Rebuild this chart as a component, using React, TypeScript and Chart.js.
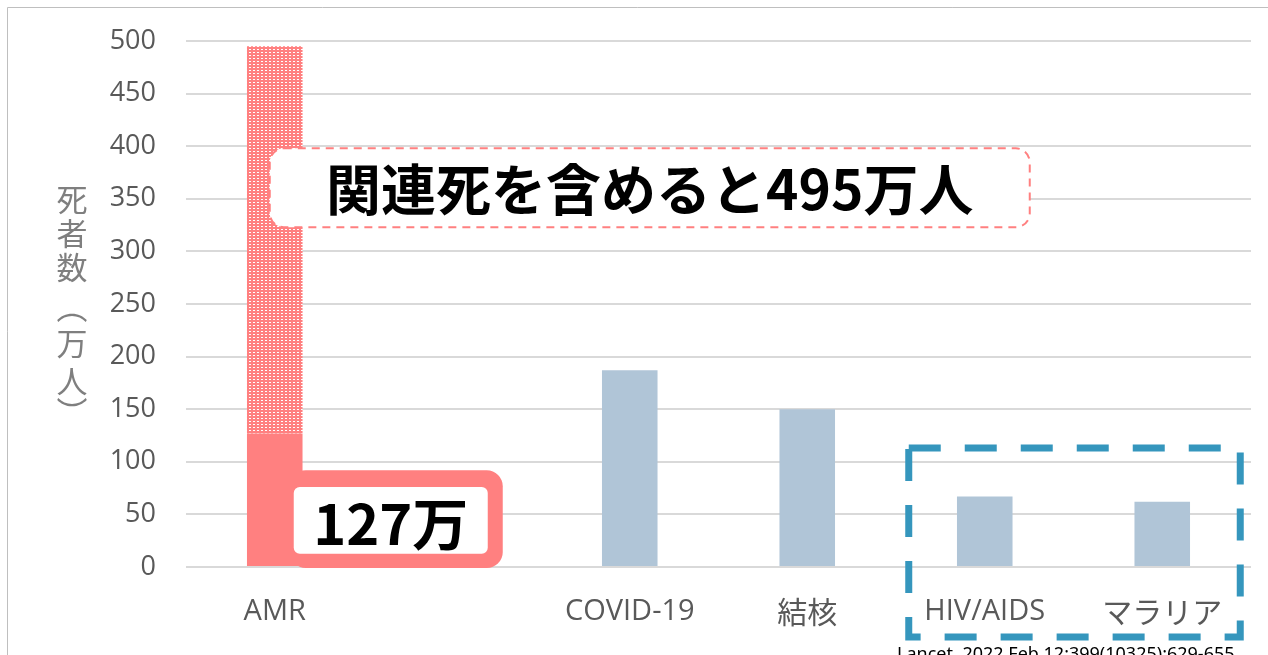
import React, { useEffect, useRef } from "react";
import { Chart, registerables } from "chart.js";

Chart.register(...registerables);

const categories = ["AMR", "", "COVID-19", "結核", "HIV/AIDS", "マラリア"];
const directDeaths = [127, null, 187, 150, 67, 62];
const totalWithAssociated = [495, null, null, null, null, null];
const yTicks = [0, 50, 100, 150, 200, 250, 300, 350, 400, 450, 500];
const yTitleChars = ["死", "者", "数", "︵", "万", "人", "︶"];
const calloutTotal = "関連死を含めると495万人";
const calloutDirect = "127万";
const sourceText = "Lancet. 2022 Feb 12;399(10325):629-655";

const PINK = "#ff8080";
const BLUE_BAR = "#b0c5d7";
const BLUE_LINE = "#3596bd";

function makePattern(): CanvasPattern | string {
  const c = document.createElement("canvas");
  c.width = 4;
  c.height = 3;
  const g = c.getContext("2d");
  if (!g) return PINK;
  g.fillStyle = PINK;
  g.fillRect(0, 0, 4, 3);
  g.fillStyle = "#ffffff";
  g.fillRect(1, 1, 2, 1);
  const p = g.createPattern(c, "repeat");
  return p || PINK;
}

function roundRect(ctx: CanvasRenderingContext2D, x: number, y: number, w: number, h: number, r: number) {
  ctx.beginPath();
  ctx.moveTo(x + r, y);
  ctx.lineTo(x + w - r, y);
  ctx.arcTo(x + w, y, x + w, y + r, r);
  ctx.lineTo(x + w, y + h - r);
  ctx.arcTo(x + w, y + h, x + w - r, y + h, r);
  ctx.lineTo(x + r, y + h);
  ctx.arcTo(x, y + h, x, y + h - r, r);
  ctx.lineTo(x, y + r);
  ctx.arcTo(x, y, x + r, y, r);
  ctx.closePath();
}

const framePlugin = {
  id: "frame",
  beforeDraw(chart: any) {
    const { ctx, width, height } = chart;
    ctx.save();
    ctx.fillStyle = "#ffffff";
    ctx.fillRect(0, 0, width, height);
    ctx.strokeStyle = "#bfbfbf";
    ctx.lineWidth = 1;
    ctx.beginPath();
    ctx.moveTo(7.5, height);
    ctx.lineTo(7.5, 7.5);
    ctx.lineTo(width, 7.5);
    ctx.stroke();
    ctx.restore();
  },
};

const titleCenters = [199, 233, 267, 307, 343, 381, 412];

const annotationPlugin = {
  id: "annotations",
  afterDraw(chart: any) {
    const { ctx } = chart;
    const x = chart.scales.x;
    const y = chart.scales.y;
    ctx.save();

    // y-axis title, vertical
    ctx.fillStyle = "#7f7f7f";
    ctx.font = "31px 'Noto Sans CJK JP'";
    ctx.textAlign = "center";
    ctx.textBaseline = "middle";
    yTitleChars.forEach((ch, i) => {
      ctx.fillText(ch, 72, titleCenters[i]);
    });

    // big dashed callout
    const bl = x.getPixelForValue(0) - 5;
    const br = x.getPixelForValue(4) + 45;
    const bt = y.getPixelForValue(398);
    const bb = y.getPixelForValue(323);
    roundRect(ctx, bl, bt, br - bl, bb - bt, 14);
    ctx.fillStyle = "#ffffff";
    ctx.fill();
    ctx.setLineDash([8, 6]);
    ctx.strokeStyle = PINK;
    ctx.lineWidth = 2;
    ctx.stroke();
    ctx.setLineDash([]);
    ctx.fillStyle = "#000000";
    ctx.font = "bold 55px 'Noto Sans CJK JP'";
    ctx.textAlign = "center";
    ctx.textBaseline = "middle";
    ctx.fillText(calloutTotal, (bl + br) / 2, (bt + bb) / 2 + 1);

    // 127万 callout
    const ol = x.getPixelForValue(0) + 15;
    const orr = x.getPixelForValue(0) + 228;
    const ot = y.getPixelForValue(92);
    const ob = y.getPixelForValue(0) + 1;
    roundRect(ctx, ol, ot, orr - ol, ob - ot, 16);
    ctx.fillStyle = PINK;
    ctx.fill();
    const il = ol + 4;
    const ir = orr - 15;
    const it = y.getPixelForValue(76);
    const ib = y.getPixelForValue(12.5);
    roundRect(ctx, il, it, ir - il, ib - it, 6);
    ctx.fillStyle = "#ffffff";
    ctx.fill();
    ctx.fillStyle = "#000000";
    ctx.font = "bold 56px 'Noto Sans CJK JP'";
    ctx.fillText(calloutDirect, (il + ir) / 2, (it + ib) / 2 + 3);

    // blue dashed box
    const ql = x.getPixelForValue(4) - 76;
    const qr = x.getPixelForValue(5) + 78;
    const qt = y.getPixelForValue(113);
    const qb = y.getPixelForValue(0) + 70;
    ctx.strokeStyle = BLUE_LINE;
    ctx.lineWidth = 7;
    ctx.setLineDash([32, 24]);
    ctx.beginPath();
    ctx.rect(ql, qt, qr - ql, qb - qt);
    ctx.stroke();
    ctx.setLineDash([]);

    // source
    ctx.fillStyle = "#000000";
    ctx.font = "18px 'Noto Sans'";
    ctx.textAlign = "left";
    ctx.textBaseline = "alphabetic";
    ctx.fillText(sourceText, 897, 660);

    ctx.restore();
  },
};

const isCJK = (s: string) => /[\u3040-\u30ff\u4e00-\u9fff]/.test(s);

export default function App() {
  const ref = useRef<HTMLCanvasElement | null>(null);

  useEffect(() => {
    if (!ref.current) return;
    const pattern = makePattern();
    const extra = totalWithAssociated.map((t, i) =>
      t == null || directDeaths[i] == null ? null : (t as number) - (directDeaths[i] as number)
    );
    const chart = new Chart(ref.current, {
      type: "bar",
      data: {
        labels: categories,
        datasets: [
          {
            label: "直接死",
            data: directDeaths as any,
            backgroundColor: categories.map((_, i) => (i === 0 ? PINK : BLUE_BAR)),
            barPercentage: 0.313,
            categoryPercentage: 1,
          },
          {
            label: "関連死",
            data: extra as any,
            backgroundColor: pattern as any,
            barPercentage: 0.313,
            categoryPercentage: 1,
          },
        ],
      },
      options: {
        animation: false,
        responsive: false,
        layout: { padding: { left: 0, top: 41, right: 17, bottom: 0 } },
        plugins: { legend: { display: false }, tooltip: { enabled: false } },
        scales: {
          x: {
            stacked: true,
            grid: { display: false, drawTicks: false },
            border: { display: false },
            ticks: {
              color: "#595959",
              padding: 27,
              font: (c: any) => {
                const lbl = categories[c.index] || "";
                return isCJK(lbl)
                  ? { family: "'Noto Sans CJK JP', sans-serif", size: 30 }
                  : { family: "'Open Sans', sans-serif", size: 29 };
              },
              maxRotation: 0,
              autoSkip: false,
            },
            afterFit: (s: any) => {
              s.height = 88;
            },
          },
          y: {
            stacked: true,
            min: 0,
            max: 500,
            afterBuildTicks: (s: any) => {
              s.ticks = yTicks.map((v) => ({ value: v }));
            },
            grid: {
              color: "#d9d9d9",
              lineWidth: 2,
              drawTicks: true,
              tickLength: 30,
              tickColor: "rgba(0,0,0,0)",
            },
            border: { display: false },
            ticks: {
              color: "#595959",
              padding: 0,
              font: { family: "'Open Sans', sans-serif", size: 27 },
            },
            afterFit: (s: any) => {
              s.width = 186;
            },
          },
        },
      },
      plugins: [framePlugin, annotationPlugin],
    });
    return () => chart.destroy();
  }, []);

  return (
    <div style={{ position: "absolute", left: 0, top: 0, width: 1268, height: 655 }}>
      <canvas ref={ref} width={1268} height={655} />
    </div>
  );
}
